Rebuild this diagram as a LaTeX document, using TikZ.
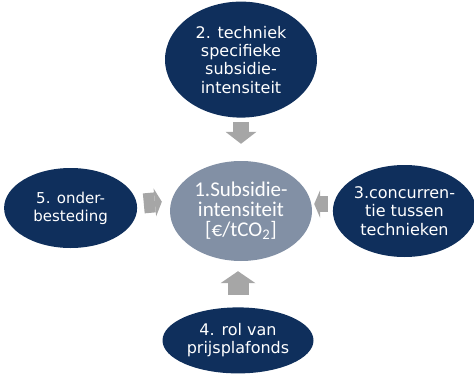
\documentclass[tikz,border=0pt]{standalone}
\usepackage{fontspec}
\setmainfont{DejaVu Sans}
\newfontfamily\calfont{Carlito}
\usepackage{xcolor}
\usepackage{tikz}
\usetikzlibrary{positioning,arrows.meta,shapes.geometric}

\definecolor{navy}{HTML}{0F2F5C}
\definecolor{slate}{HTML}{8290A5}
\definecolor{arrowgray}{HTML}{A6A6A6}

\begin{document}
\begin{tikzpicture}[
    x=1pt, y=1pt,
    factor/.style={
        ellipse,
        fill=navy,
        text=white,
        inner sep=0pt,
        align=center,
        font=\fontsize{16}{18.3}\selectfont
    },
    core/.style={
        factor,
        fill=slate,
        minimum width=142pt,
        minimum height=100pt,
        font=\calfont\fontsize{21}{20}\selectfont
    },
    push/.style={
        draw=arrowgray,
        line width=#1
    }
]
\useasboundingbox (0,0) rectangle (474,376);

% Define ellipses
\node[core] (sub) at (241,165) {1.Subsidie-\\intensiteit\\{}[€/tCO\textsubscript{2}]};
\node[factor,minimum width=152pt,minimum height=116pt,above=43pt of sub] (tech)
    {2. techniek\\specifieke\\subsidie-\\intensiteit};
\node[factor,minimum width=135pt,minimum height=92pt,right=20.5pt of sub] (conc)
    {3.concurren-\\tie tussen\\technieken};
\node[factor,minimum width=151pt,minimum height=66pt,below=46pt of sub,xshift=-3pt] (plaf)
    {4. rol van\\prijsplafonds};
\node[factor,minimum width=133pt,minimum height=80pt,left=32.5pt of sub,yshift=3pt,
    font=\fontsize{15}{18}\selectfont] (onder)
    {5. onder-\\besteding};

% Define block arrows
\draw[push=16pt,-{Triangle[length=12pt,width=31pt,line width=0pt]},
    shorten <=4pt,shorten >=17pt] (tech.south) -- (sub.north);
\draw[push=16pt,-{Triangle[length=6pt,width=28pt,line width=0pt]},
    shorten <=4.5pt,shorten >=2pt] ([yshift=7pt]conc.west) -- ([yshift=7pt]sub.east);
\draw[push=21pt,-{Triangle[length=12pt,width=35pt,line width=0pt]},
    shorten <=12pt,shorten >=10pt] (plaf.north) -- (plaf.north |- sub.south);
\draw[push=20pt,-{Triangle[length=7pt,width=28pt,line width=0pt]},
    shorten <=6.5pt,shorten >=8pt] ([yshift=4pt]onder.east) -- ([yshift=7pt]onder.east -| sub.west);

\end{tikzpicture}
\end{document}
